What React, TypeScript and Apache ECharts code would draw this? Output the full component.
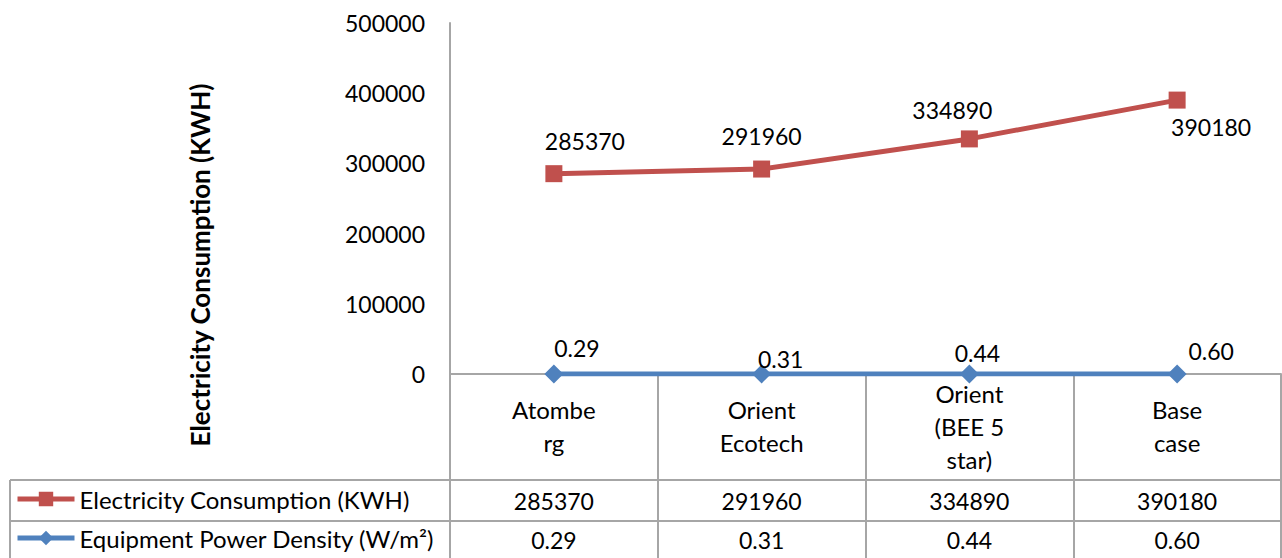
import React, { useEffect, useRef } from "react";
import * as echarts from "echarts";

const categories = ["Atomberg", "Orient Ecotech", "Orient (BEE 5 star)", "Base case"];
const categoryLabels = ["Atombe\nrg", "Orient\nEcotech", "Orient\n(BEE 5\nstar)", "Base\ncase"];
const electricity = [285370, 291960, 334890, 390180];
const equipmentDensity = [0.29, 0.31, 0.44, 0.6];
const yTicks = { min: 0, max: 500000, interval: 100000 };
const seriesNames = ["Electricity Consumption (KWH)", "Equipment Power Density (W/m²)"];
const yTitle = "Electricity Consumption (KWH)";

const FONT = "Lato";
const GRID = "#a6a6a6";
const RED = "#c0504d";
const BLUE = "#4f81bd";

export default function App() {
  const ref = useRef<HTMLDivElement>(null);
  useEffect(() => {
    if (!ref.current) return;
    const chart = echarts.init(ref.current, null, { renderer: "svg" });
    const redOffsets = [[31, 0], [0, 0], [-17, 4], [34, 0]];
    const blueOffsets = [[23, 3], [19, 14], [8, 8], [34, 6]];
    const legendBase = {
      orient: "horizontal",
      left: 10,
      padding: 5,
      itemWidth: 57,
      itemHeight: 18,
      itemGap: 4,
      lineStyle: { width: 5 },
      textStyle: { fontSize: 24, color: "#000", fontFamily: FONT },
    };
    chart.setOption({
      animation: false,
      textStyle: { fontFamily: FONT },
      grid: { left: 450, right: 1, top: 23, bottom: 184, containLabel: false },
      legend: [
        { ...legendBase, top: 482, data: [seriesNames[0]] },
        { ...legendBase, top: 521, data: [seriesNames[1]] },
      ],
      xAxis: [
        {
          type: "category",
          data: categories,
          boundaryGap: true,
          axisLine: { show: true, onZero: false, lineStyle: { color: GRID, width: 2 } },
          axisTick: { show: true, interval: 0, length: 184, lineStyle: { color: GRID, width: 2 } },
          axisLabel: {
            interval: 0,
            margin: 52,
            verticalAlign: "middle",
            fontSize: 24,
            lineHeight: 33,
            color: "#000",
            fontFamily: FONT,
            formatter: (_v: string, i: number) => categoryLabels[i],
          },
        },
        {
          type: "category",
          data: electricity.map((v) => String(v)),
          position: "bottom",
          axisLine: { show: false, onZero: false },
          axisTick: { show: false },
          axisLabel: { interval: 0, margin: 127, verticalAlign: "middle", fontSize: 23, color: "#000", fontFamily: FONT },
        },
        {
          type: "category",
          data: equipmentDensity.map((v) => v.toFixed(2)),
          position: "bottom",
          axisLine: { show: false, onZero: false },
          axisTick: { show: false },
          axisLabel: { interval: 0, margin: 166, verticalAlign: "middle", fontSize: 23, color: "#000", fontFamily: FONT },
        },
      ],
      yAxis: {
        type: "value",
        min: yTicks.min,
        max: yTicks.max,
        interval: yTicks.interval,
        axisLine: { show: true, lineStyle: { color: GRID, width: 2 } },
        axisTick: { show: false },
        splitLine: { show: false },
        axisLabel: {
          margin: 25,
          fontSize: 23,
          color: "#000",
          fontFamily: FONT,
          formatter: (v: number) => String(v),
        },
      },
      series: [
        {
          name: seriesNames[0],
          type: "line",
          xAxisIndex: 0,
          symbol: "rect",
          symbolSize: 17,
          lineStyle: { color: RED, width: 5 },
          itemStyle: { color: RED },
          z: 3,
          data: electricity.map((v, i) => ({
            value: v,
            label: {
              show: true,
              position: i === 3 ? "bottom" : "top",
              distance: i === 3 ? 7 : 13,
              offset: redOffsets[i],
              fontSize: 23,
              color: "#000",
              fontFamily: FONT,
            },
          })),
        },
        {
          name: seriesNames[1],
          type: "line",
          xAxisIndex: 0,
          symbol: "diamond",
          symbolSize: 19,
          lineStyle: { color: BLUE, width: 5 },
          itemStyle: { color: BLUE },
          z: 4,
          data: equipmentDensity.map((v, i) => ({
            value: v,
            label: {
              show: true,
              position: "top",
              distance: 8,
              offset: blueOffsets[i],
              fontSize: 23,
              color: "#000",
              fontFamily: FONT,
              formatter: () => v.toFixed(2),
            },
          })),
        },
      ],
      graphic: [
        { type: "line", shape: { x1: 10, y1: 480, x2: 1281, y2: 480 }, style: { stroke: GRID, lineWidth: 2 } },
        { type: "line", shape: { x1: 10, y1: 521, x2: 1281, y2: 521 }, style: { stroke: GRID, lineWidth: 2 } },
        { type: "line", shape: { x1: 10, y1: 480, x2: 10, y2: 558 }, style: { stroke: GRID, lineWidth: 2 } },
        {
          type: "text",
          x: 200,
          y: 265,
          rotation: Math.PI / 2,
          style: {
            text: yTitle,
            fontSize: 26,
            fontWeight: "bold",
            fontFamily: FONT,
            fill: "#000",
            align: "center",
            verticalAlign: "middle",
          },
        },
      ],
    });
    return () => chart.dispose();
  }, []);
  return (
    <div
      ref={ref}
      style={{ position: "fixed", left: 0, top: 0, width: 1282, height: 558, background: "#fff" }}
    />
  );
}
